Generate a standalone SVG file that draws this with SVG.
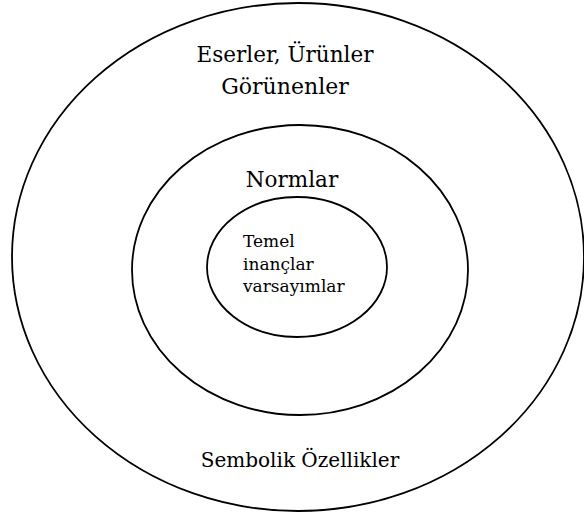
<svg xmlns="http://www.w3.org/2000/svg" width="584" height="514" viewBox="0 0 584 514">
<style>
.ring{fill:none;stroke:#000;stroke-width:1.8}
text{font-family:"DejaVu Serif","Liberation Serif",serif;fill:#000}
.big{font-size:21.5px;text-anchor:middle}
.small{font-size:17px}
</style>
<rect width="584" height="514" fill="#fff"/>
<g id="outer">
<ellipse class="ring" cx="298" cy="257" rx="286" ry="254"/>
<text class="big" x="285" y="62">Eserler, Ürünler</text>
<text class="big" x="285" y="94" style="font-size:22px">Görünenler</text>
<text class="big" x="300" y="467" style="font-size:20px">Sembolik Özellikler</text>
</g>
<g id="middle">
<ellipse class="ring" cx="300" cy="270" rx="168" ry="145"/>
<text class="big" x="292" y="187">Normlar</text>
</g>
<g id="inner">
<ellipse class="ring" cx="297" cy="267" rx="90" ry="70"/>
<text class="small" x="243" y="247">Temel</text>
<text class="small" x="243" y="270">inançlar</text>
<text class="small" x="243" y="292">varsayımlar</text>
</g>
<g id="connectors"></g>
</svg>
